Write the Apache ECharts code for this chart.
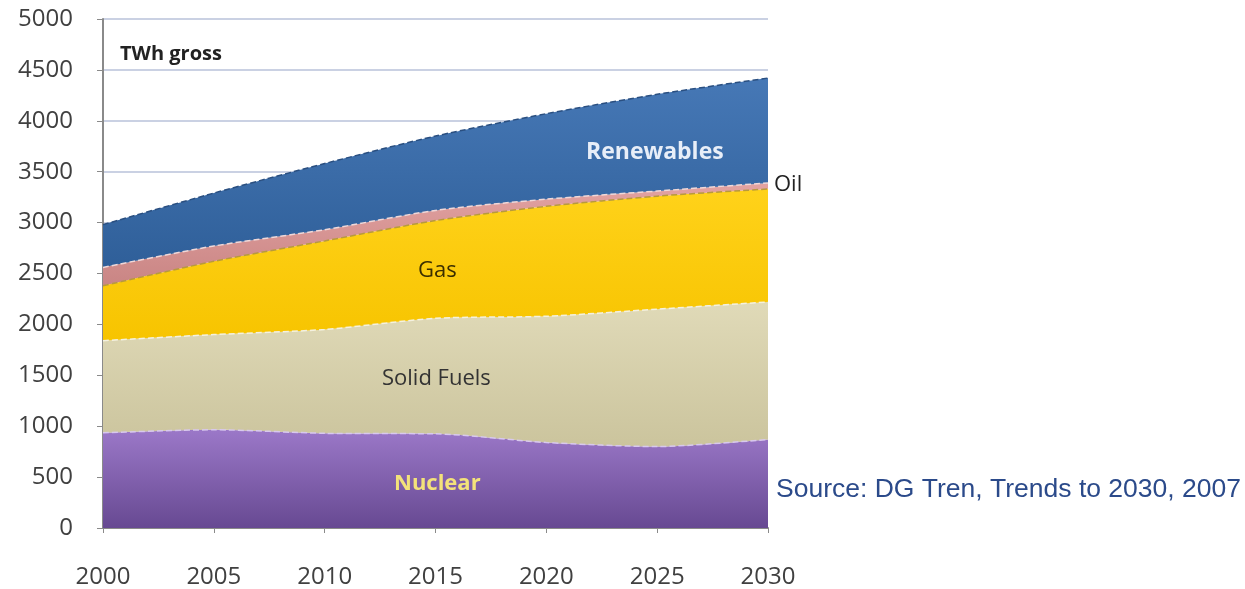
<!DOCTYPE html>
<html><head><meta charset="utf-8">
<script src="https://cdn.jsdelivr.net/npm/echarts@6/dist/echarts.min.js"></script>
<style>html,body{margin:0;padding:0;background:#fff}#c{width:1245px;height:589px}</style>
</head><body><div id="c"></div>
<script>
const years = ['2000','2005','2010','2015','2020','2025','2030'];
const nuclear = [935, 965, 930, 925, 840, 800, 870];
const solidFuels = [905, 935, 1020, 1135, 1240, 1350, 1350];
const gas = [540, 720, 870, 960, 1080, 1110, 1110];
const oil = [180, 150, 110, 100, 70, 50, 60];
const renewables = [420, 520, 650, 730, 840, 950, 1030];
const yTicks = [0,500,1000,1500,2000,2500,3000,3500,4000,4500,5000];

function grad(top, bottom){
  return new echarts.graphic.LinearGradient(0,0,0,1,[{offset:0,color:top},{offset:1,color:bottom}]);
}
function mk(name, data, fillTop, fillBot, edge){
  return {name, type:'line', stack:'total', data, smooth:0.25, symbol:'none',
    lineStyle:{width:1.5, color:edge, type:'dashed'},
    areaStyle:{color:grad(fillTop, fillBot), opacity:1}};
}
function txt(left, top, text, fill, font){
  return {type:'text', left, top, z:100, zlevel:1, style:{text, fill, font}};
}
const chart = echarts.init(document.getElementById('c'));
chart.setOption({
  animation:false,
  grid:{left:103, right:477, top:19, bottom:61},
  xAxis:{type:'category', data:years, boundaryGap:false,
    axisLine:{lineStyle:{color:'#8a8a8a', width:2}},
    axisTick:{show:true, alignWithLabel:true, length:5, lineStyle:{color:'#8a8a8a'}},
    axisLabel:{color:'#404040', fontSize:24, fontFamily:'Open Sans, sans-serif', margin:37}},
  yAxis:{type:'value', min:0, max:5000, interval:500,
    axisLine:{show:true, lineStyle:{color:'#8a8a8a', width:2}},
    axisTick:{show:true, length:6, lineStyle:{color:'#8a8a8a'}},
    splitLine:{lineStyle:{color:'#b8c2da', width:1.5}},
    axisLabel:{color:'#404040', fontSize:24, fontFamily:'Open Sans, sans-serif', margin:30,
      formatter:v=>yTicks.includes(v)?String(v):''}},
  series:[
    mk('Nuclear', nuclear, '#9b78c8', '#674992', '#d8c8ee'),
    mk('Solid Fuels', solidFuels, '#e0dab8', '#cbc49d', '#f4f1e0'),
    mk('Gas', gas, '#ffd21a', '#f7c400', '#b89a3c'),
    mk('Oil', oil, '#e3a3a2', '#c98584', '#f0d8d8'),
    mk('Renewables', renewables, '#4678b6', '#2f5f99', '#2a4f80')
  ],
  graphic:[
    txt(120, 44, 'TWh gross', '#222', 'bold 20px "Open Sans", sans-serif'),
    txt(586, 141, 'Renewables', '#e8eef8', 'bold 23px "Open Sans", sans-serif'),
    txt(774, 174, 'Oil', '#222', '22px "Open Sans", sans-serif'),
    txt(418, 260, 'Gas', '#3a2e00', '22px "Open Sans", sans-serif'),
    txt(382, 368, 'Solid Fuels', '#333', '22px "Open Sans", sans-serif'),
    txt(394, 473, 'Nuclear', '#f3e27a', 'bold 22px "Open Sans", sans-serif'),
    txt(776, 476, 'Source: DG Tren, Trends to 2030, 2007', '#2b4a8a', '26.5px "Liberation Sans", Arial, sans-serif')
  ]
});
</script></body></html>
